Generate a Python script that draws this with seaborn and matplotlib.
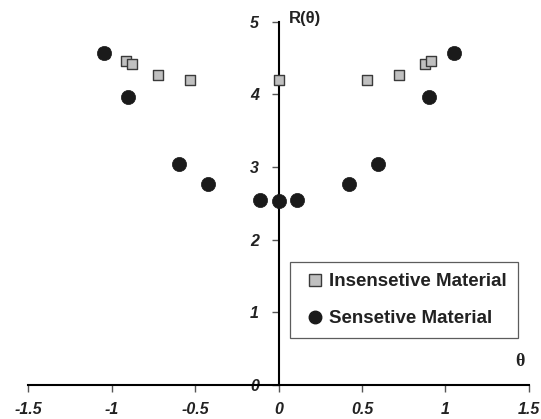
import matplotlib
matplotlib.use("Agg")
import matplotlib.pyplot as plt
import seaborn as sns
import pandas as pd
from matplotlib.lines import Line2D

# data
theta_ins = [-1.047, -0.913, -0.88, -0.723, -0.529, 0.0, 0.531, 0.723, 0.878, 0.913, 1.052]
r_ins = [4.57, 4.463, 4.417, 4.266, 4.2, 4.2, 4.2, 4.266, 4.417, 4.463, 4.57]
theta_sen = [-1.047, -0.901, -0.595, -0.42, -0.112, 0.0, 0.113, 0.42, 0.595, 0.903, 1.052]
r_sen = [4.57, 3.963, 3.04, 2.764, 2.544, 2.534, 2.544, 2.764, 3.04, 3.963, 4.57]
x_ticks = [-1.5, -1, -0.5, 0, 0.5, 1, 1.5]
x_labels = ['-1.5', '-1', '-0.5', '0', '0.5', '1', '1.5']
y_ticks = [0, 1, 2, 3, 4, 5]

df_ins = pd.DataFrame({'theta': theta_ins, 'R': r_ins})
df_sen = pd.DataFrame({'theta': theta_sen, 'R': r_sen})

sns.set_style("white")
plt.rcParams['font.family'] = ['Liberation Sans', 'DejaVu Sans']

fig = plt.figure(figsize=(5.41, 4.19), dpi=100)
ax = fig.add_axes([0.0518, 0.0811, 0.926, 0.867])

sns.scatterplot(data=df_ins, x='theta', y='R', marker='s', s=62, color='#c0c0c0',
                edgecolor='#3a3a3a', linewidth=1, ax=ax, zorder=3)
sns.scatterplot(data=df_sen, x='theta', y='R', marker='o', s=104, color='#1a1a1a',
                edgecolor='#1a1a1a', linewidth=0.5, ax=ax, zorder=4)

ax.set_xlim(-1.5, 1.5)
ax.set_ylim(0, 5)
ax.set_xlabel('')
ax.set_ylabel('')

for side in ['top', 'right']:
    ax.spines[side].set_visible(False)
ax.spines['left'].set_position(('data', 0))
ax.spines['left'].set_linewidth(1.5)
ax.spines['bottom'].set_linewidth(1.5)
ax.spines['left'].set_color('black')
ax.spines['bottom'].set_color('black')

tick_font = {'size': 11.5, 'weight': 'bold', 'style': 'italic'}
ax.set_xticks(x_ticks)
ax.set_xticklabels(x_labels, fontdict=tick_font)
ax.set_yticks(y_ticks)
ax.set_yticklabels([str(v) for v in y_ticks], fontdict=tick_font)
ax.tick_params(axis='x', bottom=True, direction='out', length=5, width=1, pad=7,
               color='#555555', labelcolor='#222222')
ax.tick_params(axis='y', left=True, direction='out', length=5, width=1, pad=9,
               color='#555555', labelcolor='#222222')

ax.text(0.06, 5.05, 'R(θ)', fontsize=12, fontweight='bold', ha='left', va='center',
        color='#222222')
ax.text(1.446, 0.32, 'θ', fontsize=13, fontweight='bold', ha='center', va='center',
        family=['Liberation Serif', 'DejaVu Serif'], color='#222222')

handles = [
    Line2D([], [], linestyle='none', marker='s', markersize=8, markerfacecolor='#c0c0c0',
           markeredgecolor='#3a3a3a', markeredgewidth=1, label='Insensetive Material'),
    Line2D([], [], linestyle='none', marker='o', markersize=9, markerfacecolor='#1a1a1a',
           markeredgecolor='#1a1a1a', label='Sensetive Material'),
]
leg = ax.legend(handles=handles, loc='upper left', bbox_to_anchor=(0.523, 0.3386),
                frameon=True, fancybox=False, handlelength=1.5, handletextpad=0.0,
                borderpad=0.6, labelspacing=1.05, borderaxespad=0,
                prop={'weight': 'bold', 'size': 13.5})
for t in leg.get_texts():
    t.set_color('#222222')
leg.get_frame().set_edgecolor('#333333')
leg.get_frame().set_linewidth(0.9)

fig.savefig('out.png', dpi=100)
